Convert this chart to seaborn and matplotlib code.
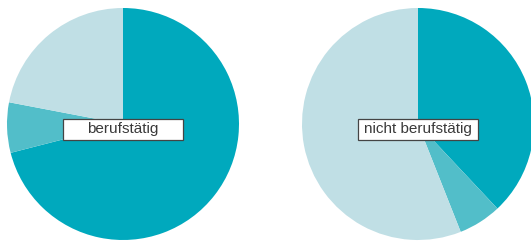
import matplotlib
matplotlib.use("Agg")
import matplotlib.pyplot as plt
from matplotlib.patches import Rectangle
import seaborn as sns

# -----------------------
# data (Anteile in %)
# -----------------------
groups = ["berufstätig", "nicht berufstätig"]
dark_share = [71, 38]
mid_share = [7, 6]
light_share = [22, 56]

colors = ["#00A9BD", "#52BEC9", "#C0DFE5"]

sns.set_theme(style="white")
plt.rcParams["font.family"] = ["Liberation Sans", "DejaVu Sans"]

W, H = 531, 241
fig = plt.figure(figsize=(W / 100, H / 100), dpi=100)

# pie-Achsen in Pixeln (links, unten, Breite, Höhe)
r_px = 116
centers = [(123, 124), (418, 124)]

for i, (cx, cy) in enumerate(centers):
    ax = fig.add_axes([(cx - r_px) / W, (H - cy - r_px) / H,
                       2 * r_px / W, 2 * r_px / H])
    vals = [dark_share[i], mid_share[i], light_share[i]]
    ax.pie(vals, colors=colors, startangle=90, counterclock=False,
           radius=1, wedgeprops=dict(linewidth=0))
    ax.set_xlim(-1, 1)
    ax.set_ylim(-1, 1)
    ax.axis("off")

    # Beschriftungsbox
    bw, bh = 120 / r_px, 21 / r_px
    by = -5.5 / r_px
    ax.add_patch(Rectangle((-bw / 2, by - bh / 2), bw, bh,
                           facecolor="white", edgecolor="#444444",
                           linewidth=0.9, zorder=5))
    ax.text(0, by, groups[i], ha="center", va="center", fontsize=11,
            color="#3a3a3a", zorder=6)

fig.savefig("out.png", dpi=100)
